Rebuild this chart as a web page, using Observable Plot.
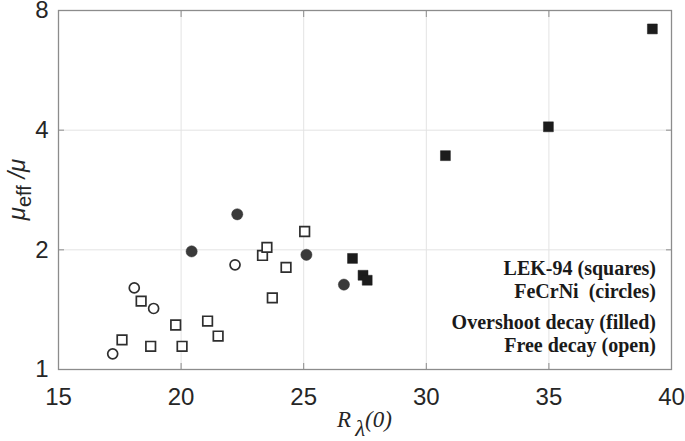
<!DOCTYPE html>
<html>
<head>
<meta charset="utf-8">
<script src="https://cdn.jsdelivr.net/npm/d3@7"></script>
<script src="https://cdn.jsdelivr.net/npm/@observablehq/plot@0.6"></script>
<style>
  html, body { margin: 0; padding: 0; background: #fff; }
  #chart { width: 685px; height: 441px; }
</style>
</head>
<body>
<div id="chart"></div>
<script>
// LEK-94 (squares)
const lekOvershootX = [26.99, 27.42, 27.59, 30.78, 34.98, 39.22];
const lekOvershootY = [1.903, 1.726, 1.677, 3.451, 4.079, 7.19];
const lekFreeX = [17.59, 18.37, 18.76, 19.78, 20.04, 21.08, 21.51, 23.32, 23.50, 24.28, 23.72, 25.04];
const lekFreeY = [1.187, 1.486, 1.144, 1.294, 1.144, 1.324, 1.214, 1.936, 2.028, 1.807, 1.514, 2.224];
// FeCrNi (circles)
const feOvershootX = [22.29, 20.43, 25.11, 26.64];
const feOvershootY = [2.457, 1.982, 1.943, 1.635];
const feFreeX = [17.21, 18.09, 18.88, 22.20];
const feFreeY = [1.095, 1.604, 1.424, 1.834];

const xTicks = [15, 20, 25, 30, 35, 40];
const yTicks = [1, 2, 4, 8];
const legendLines = ["LEK-94 (squares)", "FeCrNi  (circles)", "Overshoot decay (filled)", "Free decay (open)"];

const zip = (xs, ys) => xs.map((x, i) => ({x, y: ys[i]}));
const lekOver = zip(lekOvershootX, lekOvershootY);
const lekFree = zip(lekFreeX, lekFreeY);
const feOver = zip(feOvershootX, feOvershootY);
const feFree = zip(feFreeX, feFreeY);

const W = 685, H = 441;
const mL = 58, mR = 14, mT = 10, mB = 72;
const tickFont = "Liberation Sans, Arial, Helvetica, sans-serif";

const plot = Plot.plot({
  width: W,
  height: H,
  marginLeft: mL,
  marginRight: mR,
  marginTop: mT,
  marginBottom: mB,
  style: {background: "#fff", fontFamily: tickFont, overflow: "visible"},
  x: {domain: [15, 40], ticks: xTicks},
  y: {type: "log", base: 2, domain: [1, 8], ticks: yTicks},
  marks: [
    Plot.gridX(xTicks, {stroke: "#e3e3e3", strokeOpacity: 1, strokeWidth: 1}),
    Plot.gridY(yTicks, {stroke: "#e3e3e3", strokeOpacity: 1, strokeWidth: 1}),
    // inward ticks on all four sides
    Plot.axisX(xTicks, {anchor: "bottom", tickSize: -6, tickFormat: () => "", label: null, stroke: "#8c8c8c"}),
    Plot.axisX(xTicks, {anchor: "top", tickSize: -6, tickFormat: () => "", label: null, stroke: "#8c8c8c"}),
    Plot.axisY(yTicks, {anchor: "left", tickSize: -6, tickFormat: () => "", label: null, stroke: "#8c8c8c"}),
    Plot.axisY(yTicks, {anchor: "right", tickSize: -6, tickFormat: () => "", label: null, stroke: "#8c8c8c"}),
    // tick labels
    Plot.axisX(xTicks, {anchor: "bottom", tickSize: 0, tickPadding: 18, label: null, fontSize: 24, fill: "#262626", tickFormat: d => String(d)}),
    Plot.axisY(yTicks, {anchor: "left", tickSize: 0, tickPadding: 10, label: null, fontSize: 24, fill: "#262626", tickFormat: d => String(d)}),
    Plot.frame({stroke: "#8c8c8c", strokeWidth: 1.3}),
    // open markers (free decay)
    Plot.dot(lekFree, {x: "x", y: "y", symbol: "square", r: 5.4, fill: "white", stroke: "#2e2e2e", strokeWidth: 1.7}),
    Plot.dot(feFree, {x: "x", y: "y", symbol: "circle", r: 5, fill: "white", stroke: "#2e2e2e", strokeWidth: 1.7}),
    // filled markers (overshoot decay)
    Plot.dot(feOver, {x: "x", y: "y", symbol: "circle", r: 5.6, fill: "#3a3a3a", stroke: "#3a3a3a", strokeWidth: 0.5}),
    Plot.dot(lekOver, {x: "x", y: "y", symbol: "square", r: 5.6, fill: "#1c1c1c", stroke: "#1c1c1c", strokeWidth: 0.5})
  ]
});

document.getElementById("chart").appendChild(plot);

const svg = d3.select(plot);

// y-axis label: μ_eff /μ
const yl = svg.append("text")
  .attr("transform", `translate(25,${(mT + H - mB) / 2}) rotate(-90)`)
  .attr("text-anchor", "middle")
  .attr("font-family", tickFont)
  .attr("font-size", 24)
  .attr("fill", "#262626");
yl.append("tspan").attr("font-style", "italic").text("μ");
yl.append("tspan").attr("dy", 6).attr("font-size", 20).text("eff");
yl.append("tspan").attr("dy", -6).attr("font-style", "italic").text(" /μ");

// x-axis label: R_λ(0)
const xl = svg.append("text")
  .attr("x", mL + (W - mL - mR) / 2)
  .attr("y", 427)
  .attr("text-anchor", "middle")
  .attr("font-family", "Liberation Serif, Times New Roman, serif")
  .attr("font-style", "italic")
  .attr("font-size", 23)
  .attr("fill", "#262626");
xl.append("tspan").text("R");
xl.append("tspan").attr("dy", 9).attr("dx", 4).text("λ");
xl.append("tspan").attr("dy", -9).text("(0)");

// annotation text
const baselines = [275, 297.5, 328.5, 352];
const leg = svg.append("g")
  .attr("font-family", "Liberation Serif, Times New Roman, serif")
  .attr("font-weight", "bold")
  .attr("font-size", 20)
  .attr("fill", "#1a1a1a")
  .attr("text-anchor", "end");
legendLines.forEach((t, i) => {
  leg.append("text").attr("x", 656).attr("y", baselines[i]).style("white-space", "pre").text(t);
});
</script>
</body>
</html>
